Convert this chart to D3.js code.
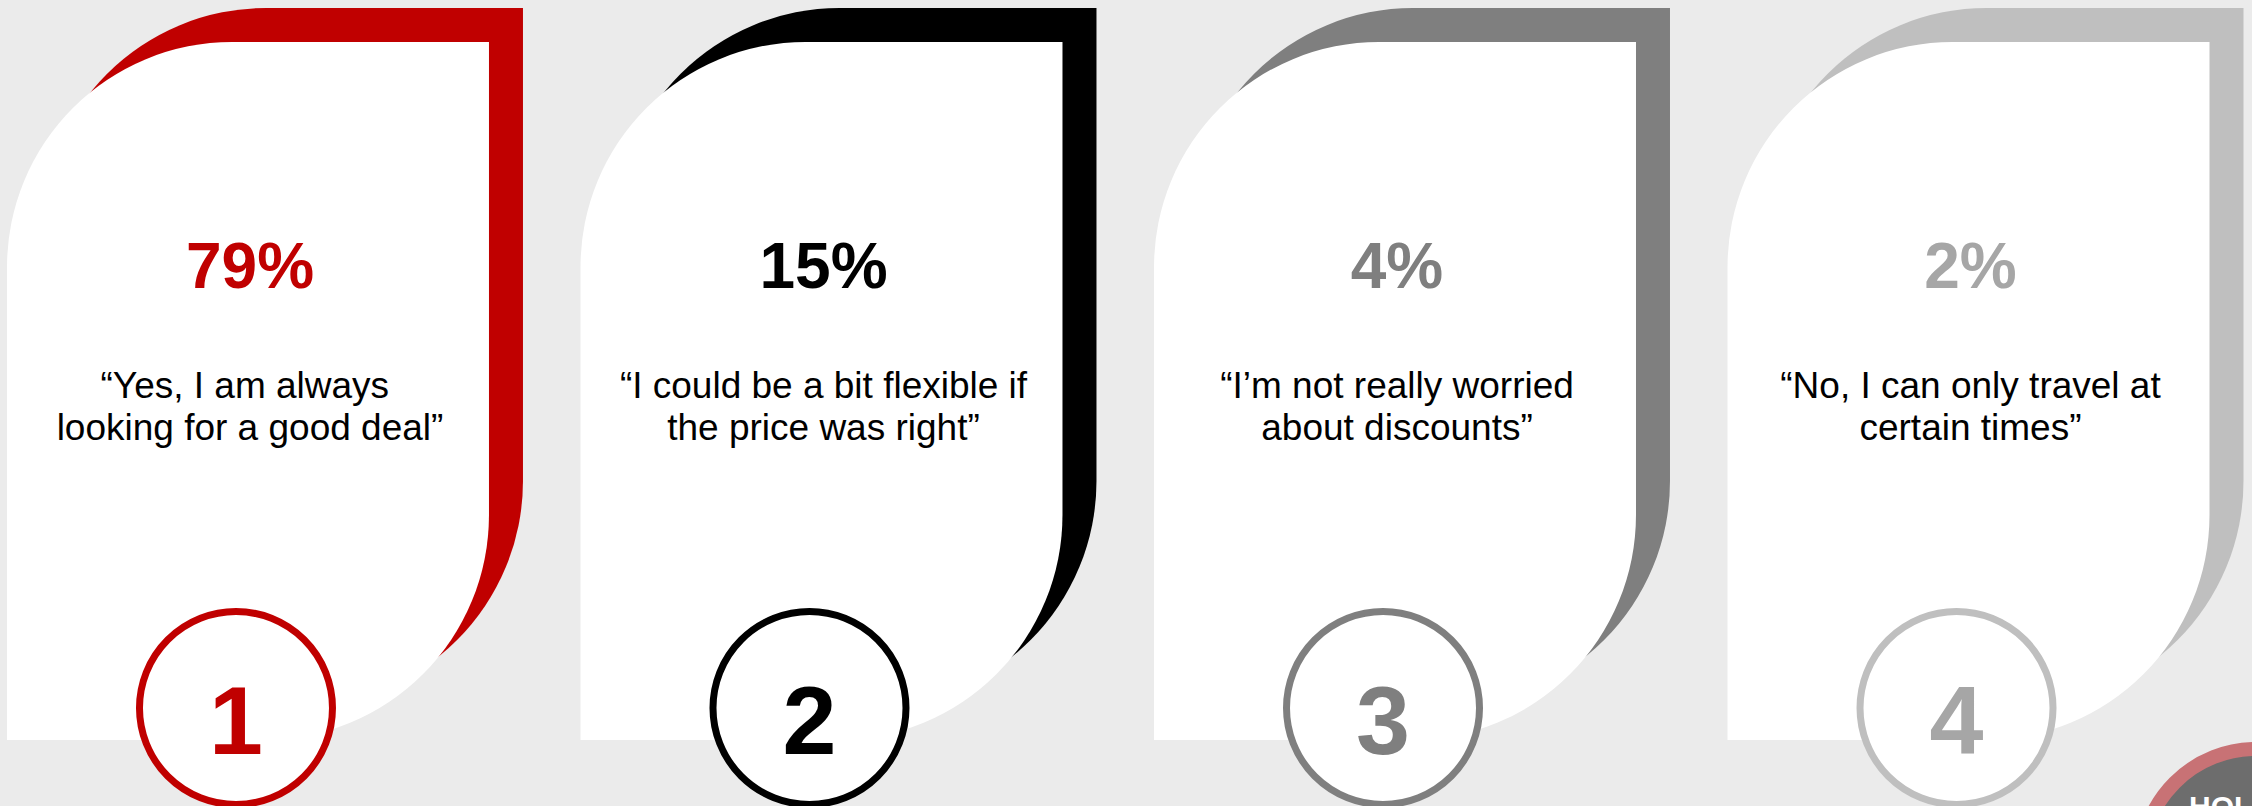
<!DOCTYPE html>
<html>
<head>
<meta charset="utf-8">
<script src="https://cdn.jsdelivr.net/npm/d3@7"></script>
<style>
  html, body { margin: 0; padding: 0; background: #ebebeb; overflow: hidden; }
  svg { display: block; }
  text { font-family: "Liberation Sans", Arial, sans-serif; }
</style>
</head>
<body>
<svg id="chart" width="2252" height="806"></svg>
<script>
// Survey answers: share of respondents per answer
const ranks = [1, 2, 3, 4];
const shares = [79, 15, 4, 2];
const quoteLine1 = ["\u201CYes, I am always ", "\u201CI could be a bit flexible if", "\u201CI\u2019m not really worried", "\u201CNo, I can only travel at"];
const quoteLine2 = ["looking for a good deal\u201D", "the price was right\u201D", "about discounts\u201D", "certain times\u201D"];
const accentColors = ["#c00000", "#000000", "#7f7f7f", "#bfbfbf"];
const labelColors = ["#c00000", "#000000", "#7f7f7f", "#a6a6a6"];

const W = 2252, H = 806;
const svg = d3.select("#chart");

const cards = ranks.map((r, i) => ({
  rank: r, share: shares[i], l1: quoteLine1[i], l2: quoteLine2[i],
  accent: accentColors[i], label: labelColors[i]
}));

// card columns
const x = d3.scaleBand().domain(ranks).range([7, 2209.5]).paddingInner(0.1596).paddingOuter(0);
const cardTop = 42, cardBottom = 740, radius = 225, shadow = 34;

// rectangle with rounded top-left and bottom-right corners
function leafPath(x0, y0, w, h, r) {
  const p = d3.path();
  p.moveTo(x0, y0 + r);
  p.arcTo(x0, y0, x0 + r, y0, r);
  p.lineTo(x0 + w, y0);
  p.lineTo(x0 + w, y0 + h - r);
  p.arcTo(x0 + w, y0 + h, x0 + w - r, y0 + h, r);
  p.lineTo(x0, y0 + h);
  p.closePath();
  return p.toString();
}

const g = svg.selectAll("g.card").data(cards).join("g").attr("class", "card");

// coloured backing offset up and to the right
g.append("path")
  .attr("d", d => leafPath(x(d.rank) + shadow, cardTop - shadow, x.bandwidth(), cardBottom - cardTop, radius))
  .attr("fill", d => d.accent);

// white card
g.append("path")
  .attr("d", d => leafPath(x(d.rank), cardTop, x.bandwidth(), cardBottom - cardTop, radius))
  .attr("fill", "#ffffff");

const cx = d => x(d.rank) + x.bandwidth() / 2 + 2;

// percentage
g.append("text")
  .attr("x", cx)
  .attr("y", 288)
  .attr("text-anchor", "middle")
  .attr("font-size", 64)
  .attr("font-weight", "bold")
  .attr("fill", d => d.label)
  .text(d => d.share + "%");

// quote, two lines
g.append("text")
  .attr("x", cx)
  .attr("y", 398)
  .attr("text-anchor", "middle")
  .attr("font-size", 37)
  .attr("fill", "#000")
  .style("white-space", "pre")
  .text(d => d.l1);

g.append("text")
  .attr("x", cx)
  .attr("y", 440)
  .attr("text-anchor", "middle")
  .attr("font-size", 37)
  .attr("fill", "#000")
  .style("white-space", "pre")
  .text(d => d.l2);

// numbered badge
const bx = d => x(d.rank) + x.bandwidth() / 2 - 12;
g.append("circle")
  .attr("cx", bx)
  .attr("cy", 708)
  .attr("r", 96.5)
  .attr("fill", "#ffffff")
  .attr("stroke", d => d.accent)
  .attr("stroke-width", 7);

g.append("text")
  .attr("x", bx)
  .attr("y", 754)
  .attr("text-anchor", "middle")
  .attr("font-size", 97)
  .attr("font-weight", "bold")
  .attr("fill", d => d.label)
  .text(d => d.rank);

// corner logo badge
const logo = svg.append("g");
logo.append("circle")
  .attr("cx", 2256).attr("cy", 864).attr("r", 115)
  .attr("fill", "#6d6d6d")
  .attr("stroke", "#c87275")
  .attr("stroke-width", 14);
logo.append("text")
  .attr("x", 2189).attr("y", 817)
  .attr("font-size", 30)
  .attr("font-weight", "bold")
  .attr("fill", "#ffffff")
  .text("HOL");
</script>
</body>
</html>
